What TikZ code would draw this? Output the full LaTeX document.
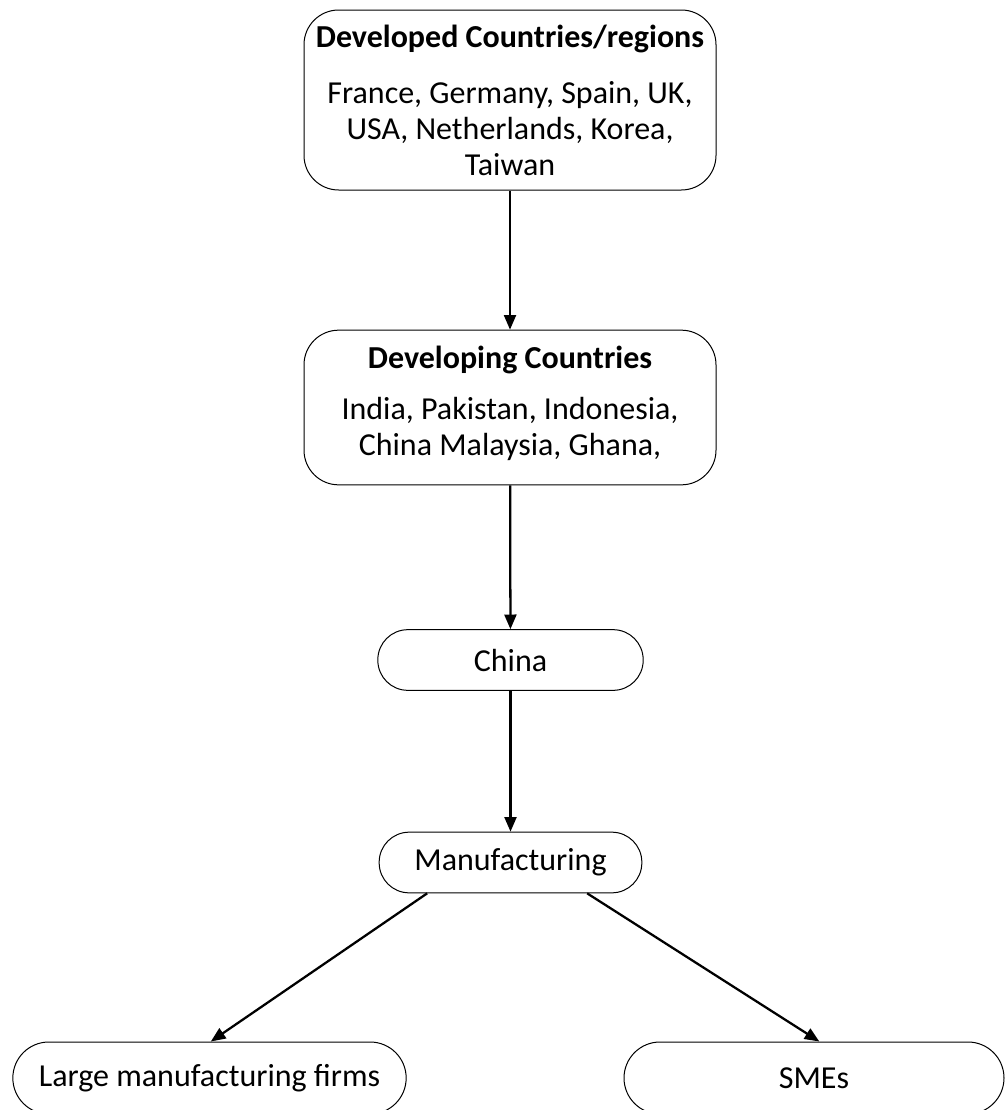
\documentclass[tikz,border=0pt]{standalone}
\usepackage{fontspec}
\setmainfont{Carlito}
\usepackage{tikz}
\usetikzlibrary{
    arrows.meta,
    positioning,
    calc
}
\usepackage{xcolor}
\definecolor{boxline}{RGB}{0,0,0}
\definecolor{arrowline}{RGB}{0,0,0}
\tikzset{
    % Boxes
    regionbox/.style={
        rectangle,
        draw=boxline,
        line width=0.75pt,
        fill=white,
        rounded corners=26pt,
        minimum width=309pt
    },
    pillbox/.style={
        rectangle,
        draw=boxline,
        line width=0.75pt,
        fill=white,
        rounded corners=22.5pt,
        minimum height=45.5pt,
        align=center,
        font=\fontsize{24}{27}\selectfont
    },
    % Texts
    boxtitle/.style={
        anchor=base,
        align=center,
        inner sep=0pt,
        font=\fontsize{24}{27}\selectfont\bfseries
    },
    boxtext/.style={
        anchor=base,
        align=center,
        inner sep=0pt,
        font=\fontsize{24}{27}\selectfont
    },
    % Arrows
    arrow/.style={
        -{Triangle[length=11pt,width=9pt]},
        line width=1.7pt,
        draw=arrowline
    }
}
\begin{document}
\begin{tikzpicture}[
    x=0.75pt, y=-0.75pt
]

    \useasboundingbox (0,0) rectangle (1006,1110);

    % Developed countries
    \node[regionbox, minimum height=135pt] (developed) at (510,100) {};
    \node[boxtitle] (developedtitle) at (510,47) {Developed Countries/regions};
    \node[boxtext] (developedlist) at (510,175) {France, Germany, Spain, UK,\\
        USA, Netherlands, Korea,\\
        Taiwan};

    % Developing countries
    \node[regionbox, minimum height=116pt] (developing) at (510,407.5) {};
    \node[boxtitle] (developingtitle) at (510,368) {Developing Countries};
    \node[boxtext] (developinglist) at (510,455) {India, Pakistan, Indonesia,\\
        China Malaysia, Ghana,};

    % China
    \node[pillbox, minimum width=199pt] (china) at (510.5,660) {China};

    % Manufacturing
    \node[pillbox, minimum width=197pt] (manuf) at (510.5,862.5) {Manufacturing};

    % Firm types
    \node[pillbox, minimum width=295pt, minimum height=54pt, rounded corners=27pt] (large) at (209.5,1078) {Large manufacturing firms};
    \node[pillbox, minimum width=285pt, minimum height=54pt, rounded corners=27pt] (smes) at (814,1078) {SMEs};

    % Arrows - main flow
    \draw[arrow] (developed) -- (developing);
    \draw[arrow] (developing) -- (china);
    \draw[arrow] (china) -- (manuf);

    % Arrows - split
    \draw[arrow] ([xshift=-62.5pt]manuf.south) -- ([xshift=1pt]large.north);
    \draw[arrow] ([xshift=57.5pt]manuf.south) -- ([xshift=4pt]smes.north);

\end{tikzpicture}
\end{document}
